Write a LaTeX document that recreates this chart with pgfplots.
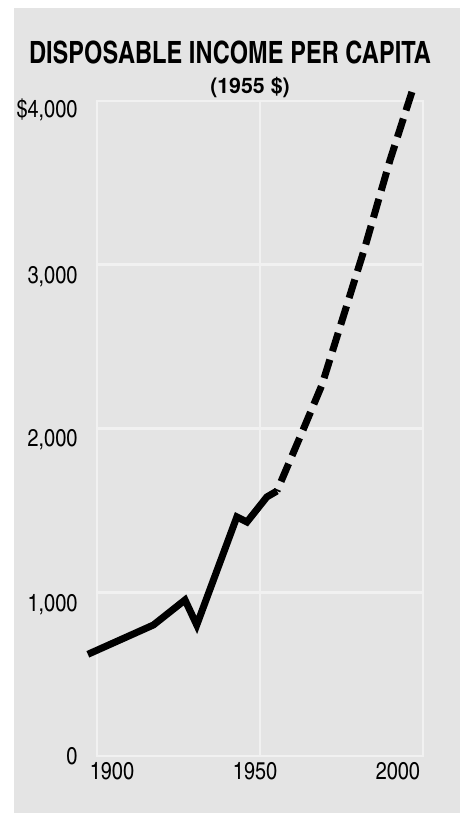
\documentclass[border=0pt]{standalone}
\usepackage{pgfplots}
\pgfplotsset{compat=1.18}
\usepackage{fontspec}
\setmainfont{texgyreheroscn}[Extension=.otf, UprightFont=*-regular, BoldFont=*-bold]
\newfontfamily\heros{texgyreheros}[Extension=.otf, UprightFont=*-regular, BoldFont=*-bold]

\definecolor{panel}{RGB}{228,228,228}
\definecolor{gridc}{RGB}{241,241,241}

\begin{document}
\begin{tikzpicture}
  % page and grey card behind the chart
  \path[use as bounding box] (-72.75pt,-42.75pt) rectangle (272.25pt,567pt);
  \fill[white] (-72.75pt,-42.75pt) rectangle (272.25pt,567pt);
  \fill[panel] (-62.25pt,-42.75pt) rectangle (272.25pt,561pt);

  \begin{axis}[
      at={(0,0)}, anchor=south west,
      scale only axis,
      width=244.5pt, height=491.25pt,
      xmin=1900, xmax=2000,
      ymin=0, ymax=4000,
      clip=false,
      axis line style={draw=gridc, line width=1.5pt},
      major grid style={draw=gridc, line width=2pt},
      xmajorgrids, ymajorgrids,
      major tick length=0pt,
      xtick={1950}, xticklabels={},
      ytick={1000,2000,3000}, yticklabels={},
      extra x ticks={1904.6,1948.5,1992.3},
      extra x tick labels={1900,1950,2000},
      extra x tick style={grid=none},
      extra y ticks={0,922,1930,2925,3945},
      extra y tick labels={0,{1,000},{2,000},{3,000},{\$4,000}},
      extra y tick style={grid=none},
      /pgf/number format/assume math mode=true,
      ticklabel style={font=\fontsize{18.2}{20}\selectfont, inner sep=0pt},
      xticklabel style={anchor=north, yshift=-5pt},
      yticklabel style={anchor=east, xshift=-14.5pt},
    ]
    % recorded series
    \addplot[black, line width=5.25pt, line join=miter] coordinates {
      (1897.2,621) (1917.3,800) (1927.0,953) (1930.6,800)
      (1942.9,1460) (1946.0,1429) (1952.1,1582) (1955.2,1618)
    };
    % projection, drawn from its far end so that the dashes start there
    \addplot[black, line width=5.25pt, dash pattern=on 14.5pt off 6.5pt] coordinates {
      (1996.6,4055) (1989.9,3640) (1982.2,3108) (1969.0,2266)
      (1963.2,1991) (1955.2,1618)
    };
  \end{axis}

  \node[font=\bfseries\fontsize{23}{26}\selectfont] at (99.75pt,527.25pt)
    {\scalebox{0.94}[1]{DISPOSABLE INCOME PER CAPITA}};
  \node[font=\heros\bfseries\fontsize{16}{18}\selectfont] at (114.75pt,501pt)
    {(1955 \$)};
\end{tikzpicture}
\end{document}
